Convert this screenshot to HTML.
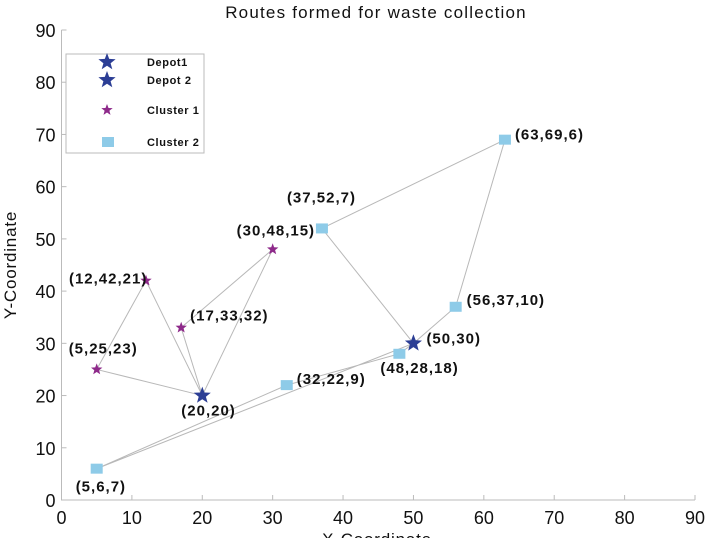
<!DOCTYPE html>
<html><head><meta charset="utf-8"><style>
body{margin:0;background:#fff;}
svg{display:block;font-family:"Liberation Sans",Arial,sans-serif;}
</style></head><body>
<svg id="chart" width="707" height="538" xmlns="http://www.w3.org/2000/svg"></svg>
<script>
const xTicks=[0,10,20,30,40,50,60,70,80,90];
const yTicks=[0,10,20,30,40,50,60,70,80,90];
const depotX=[20,50], depotY=[20,30], depotLabels=["(20,20)","(50,30)"];
const c1X=[5,12,17,30], c1Y=[25,42,33,48], c1Labels=["(5,25,23)","(12,42,21)","(17,33,32)","(30,48,15)"];
const c2X=[5,32,37,48,56,63], c2Y=[6,22,52,28,37,69], c2Labels=["(5,6,7)","(32,22,9)","(37,52,7)","(48,28,18)","(56,37,10)","(63,69,6)"];
const routeX=[[20,5,12,20],[20,17,30,20],[50,48,32,5,50],[50,56,63,37,50]];
const routeY=[[20,25,42,20],[20,33,48,20],[30,28,22,6,30],[30,37,69,52,30]];
const X0=61.5,X1=695,Y0=500,Y1=30;
const sx=v=>X0+(v/90)*(X1-X0), sy=v=>Y0-(v/90)*(Y0-Y1);
const svg=document.getElementById('chart');
const NS="http://www.w3.org/2000/svg";
function mk(tag,attrs,parent){const e=document.createElementNS(NS,tag);for(const k in attrs)e.setAttribute(k,attrs[k]);(parent||svg).appendChild(e);return e;}
function starPts(cx,cy,R){const r=R*0.42;let p=[];for(let i=0;i<10;i++){const a=-Math.PI/2+i*Math.PI/5;const rr=i%2?r:R;p.push((cx+rr*Math.cos(a)).toFixed(1)+","+(cy+rr*Math.sin(a)).toFixed(1));}return p.join(" ");}
let t=mk('text',{x:376,y:18,'text-anchor':'middle','font-size':17,'letter-spacing':1.2,fill:'#111'});t.textContent="Routes formed for waste collection";


let ax=mk('path',{d:`M${X0},${Y1}V${Y0}H${X1}`,stroke:'#bbb',fill:'none','stroke-width':1});


xTicks.forEach(v=>{mk('line',{x1:sx(v),x2:sx(v),y1:Y0,y2:Y0-5,stroke:'#bbb'});
 let e=mk('text',{x:sx(v),y:Y0+24,'text-anchor':'middle','font-size':18,fill:'#111'});e.textContent=v;
 
 });
yTicks.forEach(v=>{mk('line',{x1:X0,x2:X0+5,y1:sy(v),y2:sy(v),stroke:'#bbb'});
 let e=mk('text',{x:X0-6,y:sy(v)+7,'text-anchor':'end','font-size':18,fill:'#111'});e.textContent=v;
 
 });
let xl=mk('text',{x:377,y:545,'text-anchor':'middle','font-size':17,'letter-spacing':0.8,fill:'#111'});xl.textContent="X-Coordinate";


let yl=mk('text',{x:16,y:265,'text-anchor':'middle','font-size':17,'letter-spacing':0.8,fill:'#111',transform:'rotate(-90 16 265)'});yl.textContent="Y-Coordinate";


routeX.forEach((rx,i)=>{const d=rx.map((v,j)=>(j?'L':'M')+sx(v)+','+sy(routeY[i][j])).join('');
 let p=mk('path',{d:d,stroke:'#b8b8b8',fill:'none','stroke-width':1});
 
 });
const lbl=(x,y,s)=>{let e=mk('text',{x:x,y:y,'font-size':15,'font-weight':'bold','letter-spacing':1,fill:'#111'});e.textContent=s;
 
 };
const c2Off=[[-21,23],[10,-1],[-35,-26],[-19,19],[11,-2],[10,0]];
c2X.forEach((v,i)=>{let r=mk('rect',{x:sx(v)-6,y:sy(c2Y[i])-5,width:12,height:10,fill:'#8ecbe8'});
 
 
 lbl(sx(v)+c2Off[i][0],sy(c2Y[i])+c2Off[i][1],c2Labels[i]);});
const c1Off=[[-28,-16],[-77,3],[9,-7],[-36,-14]];
c1X.forEach((v,i)=>{let s=mk('polygon',{points:starPts(sx(v),sy(c1Y[i]),6),fill:'#8e2a8a'});
 
 
 lbl(sx(v)+c1Off[i][0],sy(c1Y[i])+c1Off[i][1],c1Labels[i]);});
const dOff=[[-21,20],[13,0]];
depotX.forEach((v,i)=>{let s=mk('polygon',{points:starPts(sx(v),sy(depotY[i]),9),fill:'#2c3e95'});
 
 
 lbl(sx(v)+dOff[i][0],sy(depotY[i])+dOff[i][1],depotLabels[i]);});
let lg=mk('g',{});


mk('rect',{x:66,y:54,width:138,height:99,fill:'#fff',stroke:'#bbb'},lg);
const legItems=[["Depot1",62,'s',9,'#2c3e95'],["Depot 2",80,'s',9,'#2c3e95'],["Cluster 1",110,'s',6,'#8e2a8a'],["Cluster 2",142,'r',0,'#8ecbe8']];
legItems.forEach(it=>{if(it[2]=='s')mk('polygon',{points:starPts(107,it[1],it[3]),fill:it[4]},lg);
 else mk('rect',{x:102,y:it[1]-5,width:12,height:10,fill:it[4]},lg);
 let e=mk('text',{x:147,y:it[1]+4,'font-size':11,'font-weight':'bold','letter-spacing':0.6,fill:'#111'},lg);e.textContent=it[0];
 
 });
</script>
</body></html>
